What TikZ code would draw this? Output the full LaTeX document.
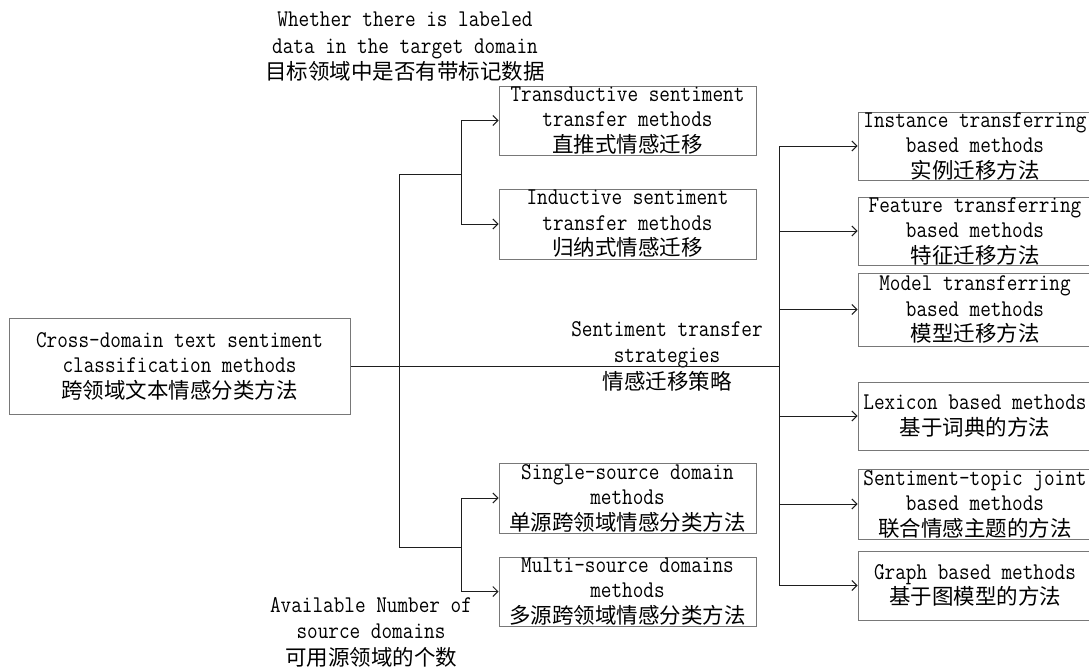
\documentclass[tikz,border=0pt]{standalone}
\usepackage{fontspec}
\setmonofont[FakeStretch=0.86]{Latin Modern Mono}
\newfontfamily\cjk{Noto Sans CJK SC}
\usetikzlibrary{arrows.meta}
\definecolor{boxgray}{RGB}{120,120,120}
\definecolor{linecol}{RGB}{30,30,30}
\newcommand\zh[1]{{\cjk\fontsize{21.5}{25}\selectfont #1}}
\tikzset{
  box/.style={draw=boxgray, line width=1pt, minimum width=257pt, minimum height=69pt,
    inner sep=0pt, align=center, font=\fontsize{24}{25.5}\selectfont\ttfamily},
  rbox/.style={box, minimum width=234pt},
  lbl/.style={align=center, inner sep=0pt, font=\fontsize{24}{26.5}\selectfont\ttfamily},
  conn/.style={line width=1pt, draw=linecol},
  arr/.style={conn, -{Straight Barb[length=5pt,width=10pt]}},
}
\begin{document}
\begin{tikzpicture}[x=1pt,y=-1pt]
\useasboundingbox (0,0) rectangle (1089,669);
\clip (0,0) rectangle (1089,669);
% nodes
\node[box, minimum width=341pt, minimum height=96pt] (main) at (179.5,366)
  {Cross-domain text sentiment\\classification methods\\\zh{跨领域文本情感分类方法}};
\node[box, minimum height=69pt] (trans) at (627.5,120.5)
  {Transductive sentiment\\transfer methods\\\zh{直推式情感迁移}};
\node[box, minimum height=70pt] (induct) at (627.5,224)
  {Inductive sentiment\\transfer methods\\\zh{归纳式情感迁移}};
\node[box, minimum height=70pt] (single) at (627.5,498)
  {Single-source domain\\methods\\\zh{单源跨领域情感分类方法}};
\node[box, minimum height=69pt] (multi) at (627.5,591.5)
  {Multi-source domains\\methods\\\zh{多源跨领域情感分类方法}};
\node[rbox, minimum height=68pt] (inst) at (975,146)
  {Instance transferring\\based methods\\\zh{实例迁移方法}};
\node[rbox, minimum height=68pt] (feat) at (975,231)
  {Feature transferring\\based methods\\\zh{特征迁移方法}};
\node[rbox, minimum height=73pt] (model) at (975,309.5)
  {Model transferring\\based methods\\\zh{模型迁移方法}};
\node[rbox, minimum height=68pt] (lex) at (975,416)
  {Lexicon based methods\\\zh{基于词典的方法}};
\node[rbox, minimum height=70pt] (stj) at (975,504)
  {Sentiment-topic joint\\based methods\\\zh{联合情感主题的方法}};
\node[rbox, minimum height=69pt] (graph) at (975,585.5)
  {Graph based methods\\\zh{基于图模型的方法}};
% labels
\node[lbl] (ltop) at (405,47)
  {Whether there is labeled\\data in the target domain\\\zh{目标领域中是否有带标记数据}};
\node[lbl] (lbot) at (371,632)
  {Available Number of\\source domains\\\zh{可用源领域的个数}};
\node[lbl] (lmid) at (667,356)
  {Sentiment transfer\\strategies\\\zh{情感迁移策略}};
% junctions
\coordinate (jR) at (779,366);
\coordinate (jT) at (399,174);
\coordinate (jB) at (399,547);
\coordinate (jT2) at (461,174);
\coordinate (jB2) at (461,547);
% connectors
\draw[conn] (main.east) -- (jR);
\draw[conn] (jT) -- (jB);
\draw[conn] (jT) -- (jT2);
\draw[conn] (jB) -- (jB2);
\draw[arr] (jT2) |- (trans.west);
\draw[arr] (jT2) |- (induct.west);
\draw[arr] (jB2) |- (single.west);
\draw[arr] (jB2) |- (multi.west);
\draw[conn] (jR |- inst.west) -- (jR |- graph.west);
\draw[arr] (jR |- inst.west) -- (inst.west);
\draw[arr] (jR |- feat.west) -- (feat.west);
\draw[arr] (jR |- model.west) -- (model.west);
\draw[arr] (jR |- lex.west) -- (lex.west);
\draw[arr] (jR |- stj.west) -- (stj.west);
\draw[arr] (jR |- graph.west) -- (graph.west);
\end{tikzpicture}
\end{document}
